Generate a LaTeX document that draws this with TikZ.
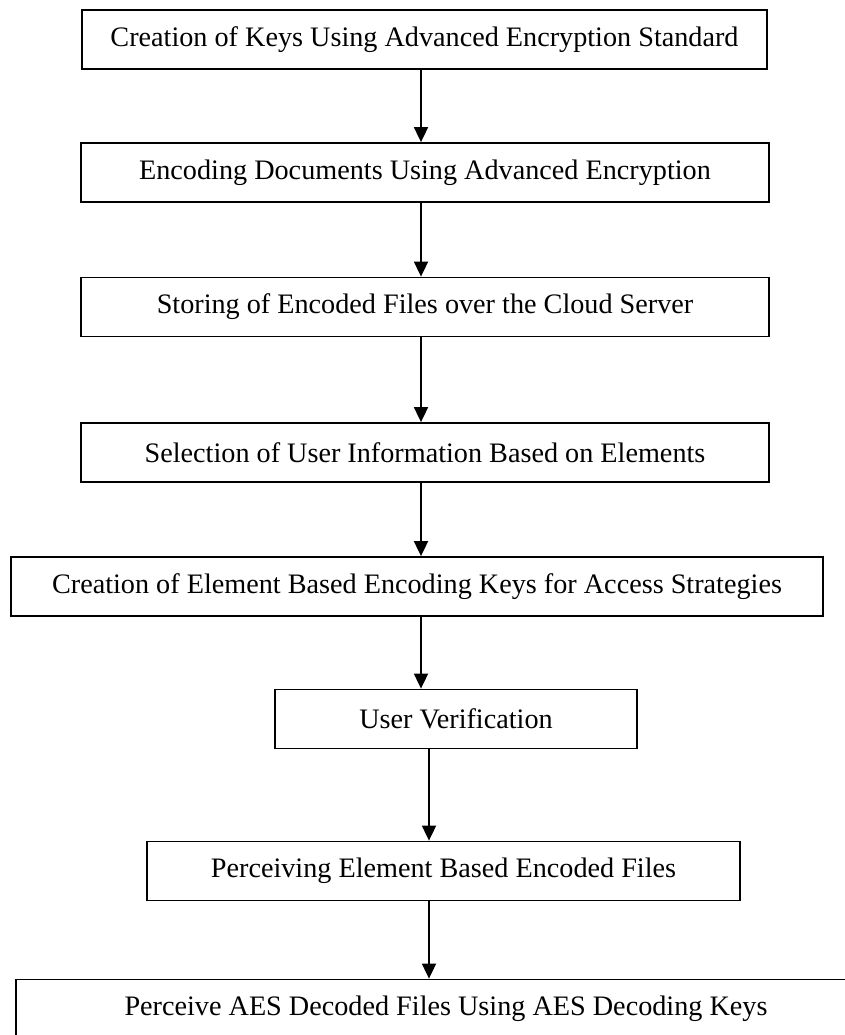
\documentclass[tikz,border=0pt]{standalone}
\usepackage{fontspec}
\setmainfont{Liberation Serif}
\usetikzlibrary{arrows.meta}

\begin{document}
\begin{tikzpicture}[
  x=1pt, y=-1pt,
  stepbox/.style={draw, line width=1.8pt, inner sep=0pt, minimum height=59,
    font=\fontsize{28.2}{33}\selectfont},
  arr/.style={line width=1.8pt, -{Triangle[length=15pt,width=14pt]}},
]
\useasboundingbox (0,0) rectangle (845,1035);
\clip (0,0) rectangle (845,1035);

% ----- steps -----
\node[stepbox, minimum width=685] (keys)   at (424.5,39.5) {Creation of Keys Using Advanced Encryption Standard};
\node[stepbox, minimum width=688] (encode) at (425,172.5)  {Encoding Documents Using Advanced Encryption};
\node[stepbox, minimum width=688] (store)  at (425,307)    {Storing of Encoded Files over the Cloud Server};
\node[stepbox, minimum width=688] (select) at (425,452.5)  {Selection of User Information Based on Elements};
\node[stepbox, minimum width=812] (abkeys) at (417,586.5)  {Creation of Element Based Encoding Keys for Access Strategies};
\node[stepbox, minimum width=362] (verify) at (456,719)    {User Verification};
\node[stepbox, minimum width=593] (perc)   at (443.5,871)  {Perceiving Element Based Encoded Files};
\node[stepbox, minimum width=860] (aesdec) at (446,1009)   {Perceive AES Decoded Files Using AES Decoding Keys};

% ----- arrows -----
\coordinate (xa) at (421,0);
\coordinate (xb) at (429,0);
\draw[arr] (keys.south -| xa)   -- (encode.north -| xa);
\draw[arr] (encode.south -| xa) -- (store.north -| xa);
\draw[arr] (store.south -| xa)  -- (select.north -| xa);
\draw[arr] (select.south -| xa) -- (abkeys.north -| xa);
\draw[arr] (abkeys.south -| xa) -- (verify.north -| xa);
\draw[arr] (verify.south -| xb) -- (perc.north -| xb);
\draw[arr] (perc.south -| xb)   -- (aesdec.north -| xb);

\end{tikzpicture}
\end{document}
